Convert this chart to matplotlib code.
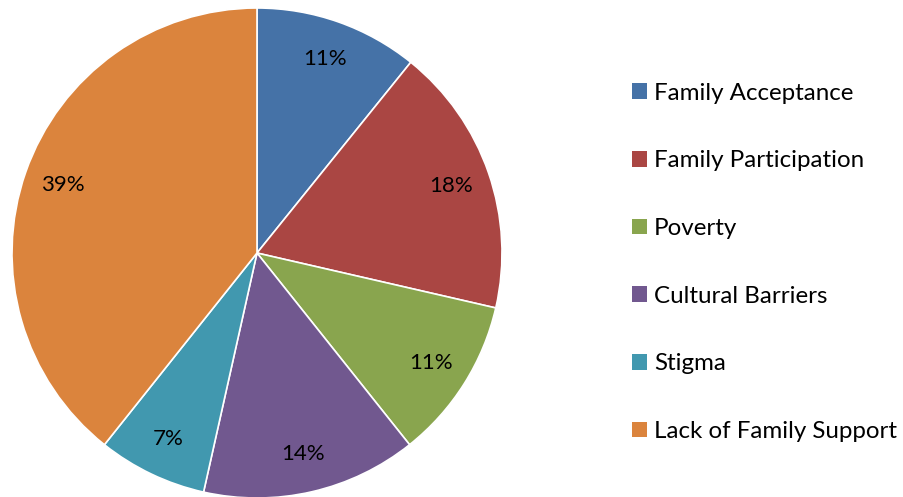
import matplotlib.pyplot as plt
from matplotlib.patches import Patch

plt.rcParams['font.family'] = ['Lato', 'DejaVu Sans']

categories = ['Family Acceptance', 'Family Participation', 'Poverty',
              'Cultural Barriers', 'Stigma', 'Lack of Family Support']
shares = [10.8, 17.8, 10.7, 14.2, 7.2, 39.3]
colors = ['#4572A7', '#AA4643', '#89A54E', '#71588F', '#4198AF', '#DB843D']

W, H = 904, 497
fig = plt.figure(figsize=(W / 100, H / 100), dpi=100)

# pie centre ~ (257, 253) px, radius ~245 px
cx, cy, r = 257, 253, 245
ax = fig.add_axes([(cx - r) / W, (H - cy - r) / H, 2 * r / W, 2 * r / H])
wedges, texts, autotexts = ax.pie(
    shares, colors=colors, startangle=90, counterclock=False,
    autopct='%.0f%%', pctdistance=0.84, radius=1.0,
    wedgeprops=dict(edgecolor='white', linewidth=1.2),
    textprops=dict(fontsize=16, color='black'))
ax.set_xlim(-1, 1)
ax.set_ylim(-1, 1)
ax.set_aspect('equal')

handles = [Patch(facecolor=c, edgecolor='none') for c in colors]
fig.legend(handles, categories, loc='upper left',
           bbox_to_anchor=(610 / W, 1 - 61 / H), frameon=False,
           fontsize=17.4, labelspacing=1.93, handlelength=0.62,
           handleheight=0.62, handletextpad=0.3)

fig.savefig('out.png', dpi=100)
